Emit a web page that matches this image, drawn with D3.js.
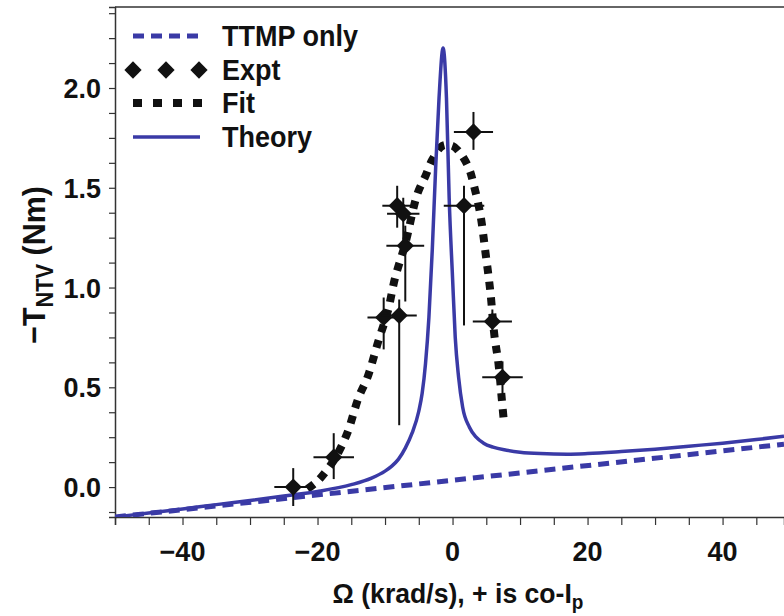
<!DOCTYPE html>
<html>
<head>
<meta charset="utf-8">
<script src="https://cdn.jsdelivr.net/npm/d3@7"></script>
<style>
  body { margin: 0; background: #fff; }
  text { font-family: "Liberation Sans", Arial, sans-serif; font-weight: bold; fill: #111; }
</style>
</head>
<body>
<svg id="chart" width="784" height="616"></svg>
<script>
// TTMP only (dashed blue)
var ttmpX = [-50, 49.1];
var ttmpY = [-0.15, 0.215];

// theory curve (solid blue)
var theoryX = [-50, -45, -40, -35, -30, -25, -20, -15, -12, -10, -9, -8, -7, -6, -5, -4.5, -4.0, -3.5, -3.0, -2.5, -2.0, -1.4, -0.9, -0.5, 0.0, 0.4, 0.9, 1.5, 2.5, 3.5, 4.6, 6, 8, 10, 13, 17, 20, 25, 30, 35, 40, 45, 49.1];
var theoryY = [-0.15, -0.13, -0.11, -0.088, -0.067, -0.045, -0.022, 0.012, 0.045, 0.08, 0.105, 0.14, 0.195, 0.27, 0.38, 0.47, 0.62, 0.85, 1.19, 1.6, 1.95, 2.2, 1.95, 1.45, 1.05, 0.75, 0.55, 0.40, 0.30, 0.25, 0.22, 0.20, 0.185, 0.175, 0.168, 0.165, 0.168, 0.178, 0.19, 0.205, 0.22, 0.238, 0.255];

// fit curve (black dotted)
var fitX = [-21.5, -20, -18.5, -17.3, -15.6, -13.9, -12.6, -11, -9.6, -8.5, -7, -5.2, -4, -3, -1.5, 0, 1.0, 2.4, 3.1, 4.1, 4.9, 5.6, 6.2, 6.8, 7.3, 7.6];
var fitY = [-0.01, 0.03, 0.09, 0.15, 0.27, 0.45, 0.55, 0.73, 0.88, 1.05, 1.22, 1.47, 1.56, 1.64, 1.71, 1.71, 1.68, 1.60, 1.52, 1.37, 1.17, 0.98, 0.76, 0.62, 0.44, 0.33];

// experiment points with error bars
var exptX   = [-23.6, -17.6, -10.2, -7.9, -8.2, -7.3, -7.0, 1.7, 3.1, 5.9, 7.4];
var exptY   = [0.0, 0.15, 0.85, 0.86, 1.41, 1.37, 1.21, 1.41, 1.78, 0.83, 0.55];
var exptXerr = [2.8, 3.0, 2.4, 2.6, 2.2, 2.4, 2.8, 3.0, 2.9, 2.9, 3.0];
var exptYlo = [-0.095, 0.04, 0.69, 0.31, 1.30, 1.22, 0.93, 0.81, 1.69, 0.77, 0.47];
var exptYhi = [0.095, 0.27, 0.95, 0.94, 1.51, 1.45, 1.31, 1.51, 1.88, 0.89, 0.63];

var xTicks = [-40, -20, 0, 20, 40];
var yTicks = [0.0, 0.5, 1.0, 1.5, 2.0];
var legendLabels = ["TTMP only", "Expt", "Fit", "Theory"];

var blue = "#3a3aa6";

var svg = d3.select("#chart");
var mLeft = 115, mRight = 784, mTop = 7, mBottom = 517;

var x = d3.scaleLinear().domain([-50, 49.1]).range([mLeft, mRight]);
var y = d3.scaleLinear().domain([-0.15, 2.406]).range([mBottom, mTop]);

svg.append("clipPath").attr("id", "plot")
  .append("rect").attr("x", mLeft).attr("y", mTop).attr("width", mRight - mLeft).attr("height", mBottom - mTop);

// axes
var xAxis = d3.axisBottom(x).tickValues(d3.range(-50, 50, 5)).tickSize(8).tickFormat("");
var gx = svg.append("g").attr("transform", "translate(0," + mBottom + ")").call(xAxis);
var yAxis = d3.axisLeft(y).tickValues(d3.range(-0.125, 2.4, 0.125)).tickSize(6).tickFormat("");
var gy = svg.append("g").attr("transform", "translate(" + mLeft + ",0)").call(yAxis);
[gx, gy].forEach(function(g) {
  g.selectAll("path.domain").attr("stroke", "#333").attr("stroke-width", 1.5);
  g.selectAll("line").attr("stroke", "#333").attr("stroke-width", 1.2);
});
svg.append("line").attr("x1", mLeft).attr("x2", mRight).attr("y1", mTop).attr("y2", mTop)
  .attr("stroke", "#333").attr("stroke-width", 1.5);

svg.selectAll(".xlab").data(xTicks).enter().append("text")
  .attr("x", function(d) { return x(d); }).attr("y", 561)
  .attr("text-anchor", "middle").style("font-size", "27px")
  .text(function(d) { return d < 0 ? "\u2212" + Math.abs(d) : d; });

svg.selectAll(".ylab").data(yTicks).enter().append("text")
  .attr("x", 101).attr("y", function(d) { return y(d) + 10; })
  .attr("text-anchor", "end").style("font-size", "27px")
  .text(function(d) { return d.toFixed(1); });

// axis titles
var xt = svg.append("text").attr("transform", "translate(458,603) scale(0.95,1)")
  .attr("text-anchor", "middle").style("font-size", "28px");
xt.append("tspan").text("\u03a9 (krad/s), + is co-I");
xt.append("tspan").attr("dy", 6).style("font-size", "20px").text("p");

var yt = svg.append("text").attr("transform", "translate(45,265) rotate(-90) scale(0.95,1)")
  .attr("text-anchor", "middle").style("font-size", "32px");
yt.append("tspan").text("\u2212T");
yt.append("tspan").attr("dy", 8).style("font-size", "23px").text("NTV");
yt.append("tspan").attr("dy", -8).text(" (Nm)");

// data
var plot = svg.append("g").attr("clip-path", "url(#plot)");
var line = d3.line().x(function(d) { return x(d[0]); }).y(function(d) { return y(d[1]); });
var lineSmooth = d3.line().curve(d3.curveMonotoneX).x(function(d) { return x(d[0]); }).y(function(d) { return y(d[1]); });

plot.append("path").datum(d3.zip(ttmpX, ttmpY)).attr("d", line)
  .attr("fill", "none").attr("stroke", blue).attr("stroke-width", 5).attr("stroke-dasharray", "11,7");

plot.append("path").datum(d3.zip(fitX, fitY)).attr("d", d3.line().curve(d3.curveCatmullRom).x(function(d) { return x(d[0]); }).y(function(d) { return y(d[1]); }))
  .attr("fill", "none").attr("stroke", "#111").attr("stroke-width", 8).attr("stroke-dasharray", "8,8");

plot.append("path").datum(d3.zip(theoryX, theoryY)).attr("d", lineSmooth)
  .attr("fill", "none").attr("stroke", blue).attr("stroke-width", 3.5);

var pts = exptX.map(function(d, i) {
  return { x: d, y: exptY[i], xe: exptXerr[i], lo: exptYlo[i], hi: exptYhi[i] };
});
var pg = plot.selectAll(".pt").data(pts).enter().append("g");
pg.append("line").attr("x1", function(d) { return x(d.x - d.xe); }).attr("x2", function(d) { return x(d.x + d.xe); })
  .attr("y1", function(d) { return y(d.y); }).attr("y2", function(d) { return y(d.y); })
  .attr("stroke", "#111").attr("stroke-width", 2);
pg.append("line").attr("x1", function(d) { return x(d.x); }).attr("x2", function(d) { return x(d.x); })
  .attr("y1", function(d) { return y(d.lo); }).attr("y2", function(d) { return y(d.hi); })
  .attr("stroke", "#111").attr("stroke-width", 2);
var diamond = d3.symbol().type(d3.symbolDiamond2).size(190);
pg.append("path").attr("d", diamond)
  .attr("transform", function(d) { return "translate(" + x(d.x) + "," + y(d.y) + ")"; })
  .attr("fill", "#111");

// legend
var lg = svg.append("g");
var rowY = [36, 70, 103, 137];
lg.append("line").attr("x1", 133).attr("x2", 200).attr("y1", rowY[0]).attr("y2", rowY[0])
  .attr("stroke", blue).attr("stroke-width", 5).attr("stroke-dasharray", "11,7");
[133, 166, 199].forEach(function(cx) {
  lg.append("path").attr("d", diamond).attr("transform", "translate(" + cx + "," + rowY[1] + ")").attr("fill", "#111");
});
lg.append("line").attr("x1", 133).attr("x2", 202).attr("y1", rowY[2]).attr("y2", rowY[2])
  .attr("stroke", "#111").attr("stroke-width", 8).attr("stroke-dasharray", "9,11");
lg.append("line").attr("x1", 133).attr("x2", 200).attr("y1", rowY[3]).attr("y2", rowY[3])
  .attr("stroke", blue).attr("stroke-width", 3.5);
lg.selectAll(".lt").data(legendLabels).enter().append("text")
  .attr("transform", function(d, i) { return "translate(222," + (rowY[i] + 10) + ") scale(0.9,1)"; })
  .style("font-size", "30px").text(function(d) { return d; });
</script>
</body>
</html>
